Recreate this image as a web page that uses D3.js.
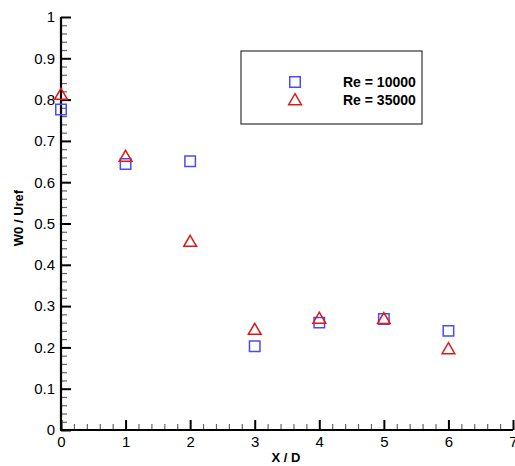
<!DOCTYPE html>
<html><head><meta charset="utf-8">
<script src="https://cdn.jsdelivr.net/npm/d3@7"></script>
<style>body{margin:0;background:#fff}svg{display:block}</style>
</head><body>
<svg id="c" width="515" height="466"></svg>
<script>
const xPos = [0, 1, 2, 3, 4, 5, 6];
const re10000 = [0.776, 0.644, 0.651, 0.203, 0.260, 0.269, 0.240];
const re35000 = [0.812, 0.662, 0.456, 0.243, 0.270, 0.269, 0.196];
const seriesNames = ["Re = 10000", "Re = 35000"];
const xTicks = [0, 1, 2, 3, 4, 5, 6, 7];
const yTicks = [0, 0.1, 0.2, 0.3, 0.4, 0.5, 0.6, 0.7, 0.8, 0.9, 1];

const svg = d3.select("#c");
const font = "Liberation Sans, Arial, sans-serif";
const x = d3.scaleLinear().domain([0, 7]).range([61, 513]);
const y = d3.scaleLinear().domain([0, 1]).range([430, 17]);

const gx = svg.append("g").attr("transform", "translate(0,430)");
// minor ticks x
gx.append("g").call(d3.axisTop(x).tickValues(d3.range(0, 7.001, 0.2).filter(v => Math.abs(v - Math.round(v)) > 1e-6)).tickSize(6).tickFormat(""))
  .call(g => g.select(".domain").remove())
  .call(g => g.selectAll("line").attr("stroke", "#666").attr("stroke-width", 1.2));
gx.append("g").call(d3.axisTop(x).tickValues(xTicks).tickSize(10).tickFormat(""))
  .call(g => g.select(".domain").remove())
  .call(g => g.selectAll("line").attr("stroke", "#000").attr("stroke-width", 2));
gx.append("g").call(d3.axisBottom(x).tickValues(xTicks).tickSize(0).tickPadding(6).tickFormat(d3.format("d")))
  .call(g => g.select(".domain").remove())
  .call(g => g.selectAll("text").attr("font-family", font).attr("font-size", 15).attr("fill", "#000"));

const gy = svg.append("g").attr("transform", "translate(61,0)");
gy.append("g").call(d3.axisRight(y).tickValues(d3.range(0, 1.0001, 0.02).filter(v => Math.abs(v * 10 - Math.round(v * 10)) > 1e-6)).tickSize(6).tickFormat(""))
  .call(g => g.select(".domain").remove())
  .call(g => g.selectAll("line").attr("stroke", "#666").attr("stroke-width", 1.2));
gy.append("g").call(d3.axisRight(y).tickValues(yTicks).tickSize(10).tickFormat(""))
  .call(g => g.select(".domain").remove())
  .call(g => g.selectAll("line").attr("stroke", "#000").attr("stroke-width", 2));
gy.append("g").call(d3.axisLeft(y).tickValues(yTicks).tickSize(0).tickPadding(6).tickFormat(d => d3.format("")(+d.toFixed(1))))
  .call(g => g.select(".domain").remove())
  .call(g => g.selectAll("text").attr("font-family", font).attr("font-size", 15).attr("fill", "#000"));

// axis lines
svg.append("line").attr("x1", 61).attr("x2", 513).attr("y1", 430).attr("y2", 430).attr("stroke", "#000").attr("stroke-width", 2.2);
svg.append("line").attr("x1", 61).attr("x2", 61).attr("y1", 17).attr("y2", 431).attr("stroke", "#000").attr("stroke-width", 2.2);

// titles
svg.append("text").attr("x", 286).attr("y", 462).attr("text-anchor", "middle")
  .attr("font-family", font).attr("font-weight", "bold").attr("font-size", 13).text("X / D");
svg.append("text").attr("transform", "translate(23,218) rotate(-90)").attr("text-anchor", "middle")
  .attr("font-family", font).attr("font-weight", "bold").attr("font-size", 13).text("W0 / Uref");

const blue = "#4a4aff", red = "#e01818";
const sq = d3.symbol().type(d3.symbolSquare).size(110);
const tri = d3.symbol().type(d3.symbolTriangle).size(70);

svg.append("g").selectAll("path").data(xPos.map((v, i) => [v, re10000[i]])).join("path")
  .attr("d", sq).attr("transform", d => `translate(${x(d[0])},${y(d[1])})`)
  .attr("fill", "none").attr("stroke", blue).attr("stroke-width", 1.5);
svg.append("g").selectAll("path").data(xPos.map((v, i) => [v, re35000[i]])).join("path")
  .attr("d", tri).attr("transform", d => `translate(${x(d[0])},${y(d[1]) + 1})`)
  .attr("fill", "none").attr("stroke", red).attr("stroke-width", 1.5);

// legend
const lg = svg.append("g");
lg.append("rect").attr("x", 241).attr("y", 51).attr("width", 181).attr("height", 73)
  .attr("fill", "#fff").attr("stroke", "#333").attr("stroke-width", 1.2);
lg.append("path").attr("d", sq).attr("transform", "translate(295,82)").attr("fill", "none").attr("stroke", blue).attr("stroke-width", 1.5);
lg.append("path").attr("d", tri).attr("transform", "translate(295,101)").attr("fill", "none").attr("stroke", red).attr("stroke-width", 1.5);
lg.selectAll("text").data(seriesNames).join("text")
  .attr("x", 343).attr("y", (d, i) => 87 + i * 18)
  .attr("font-family", font).attr("font-weight", "bold").attr("font-size", 14).text(d => d);
</script>
</body></html>
